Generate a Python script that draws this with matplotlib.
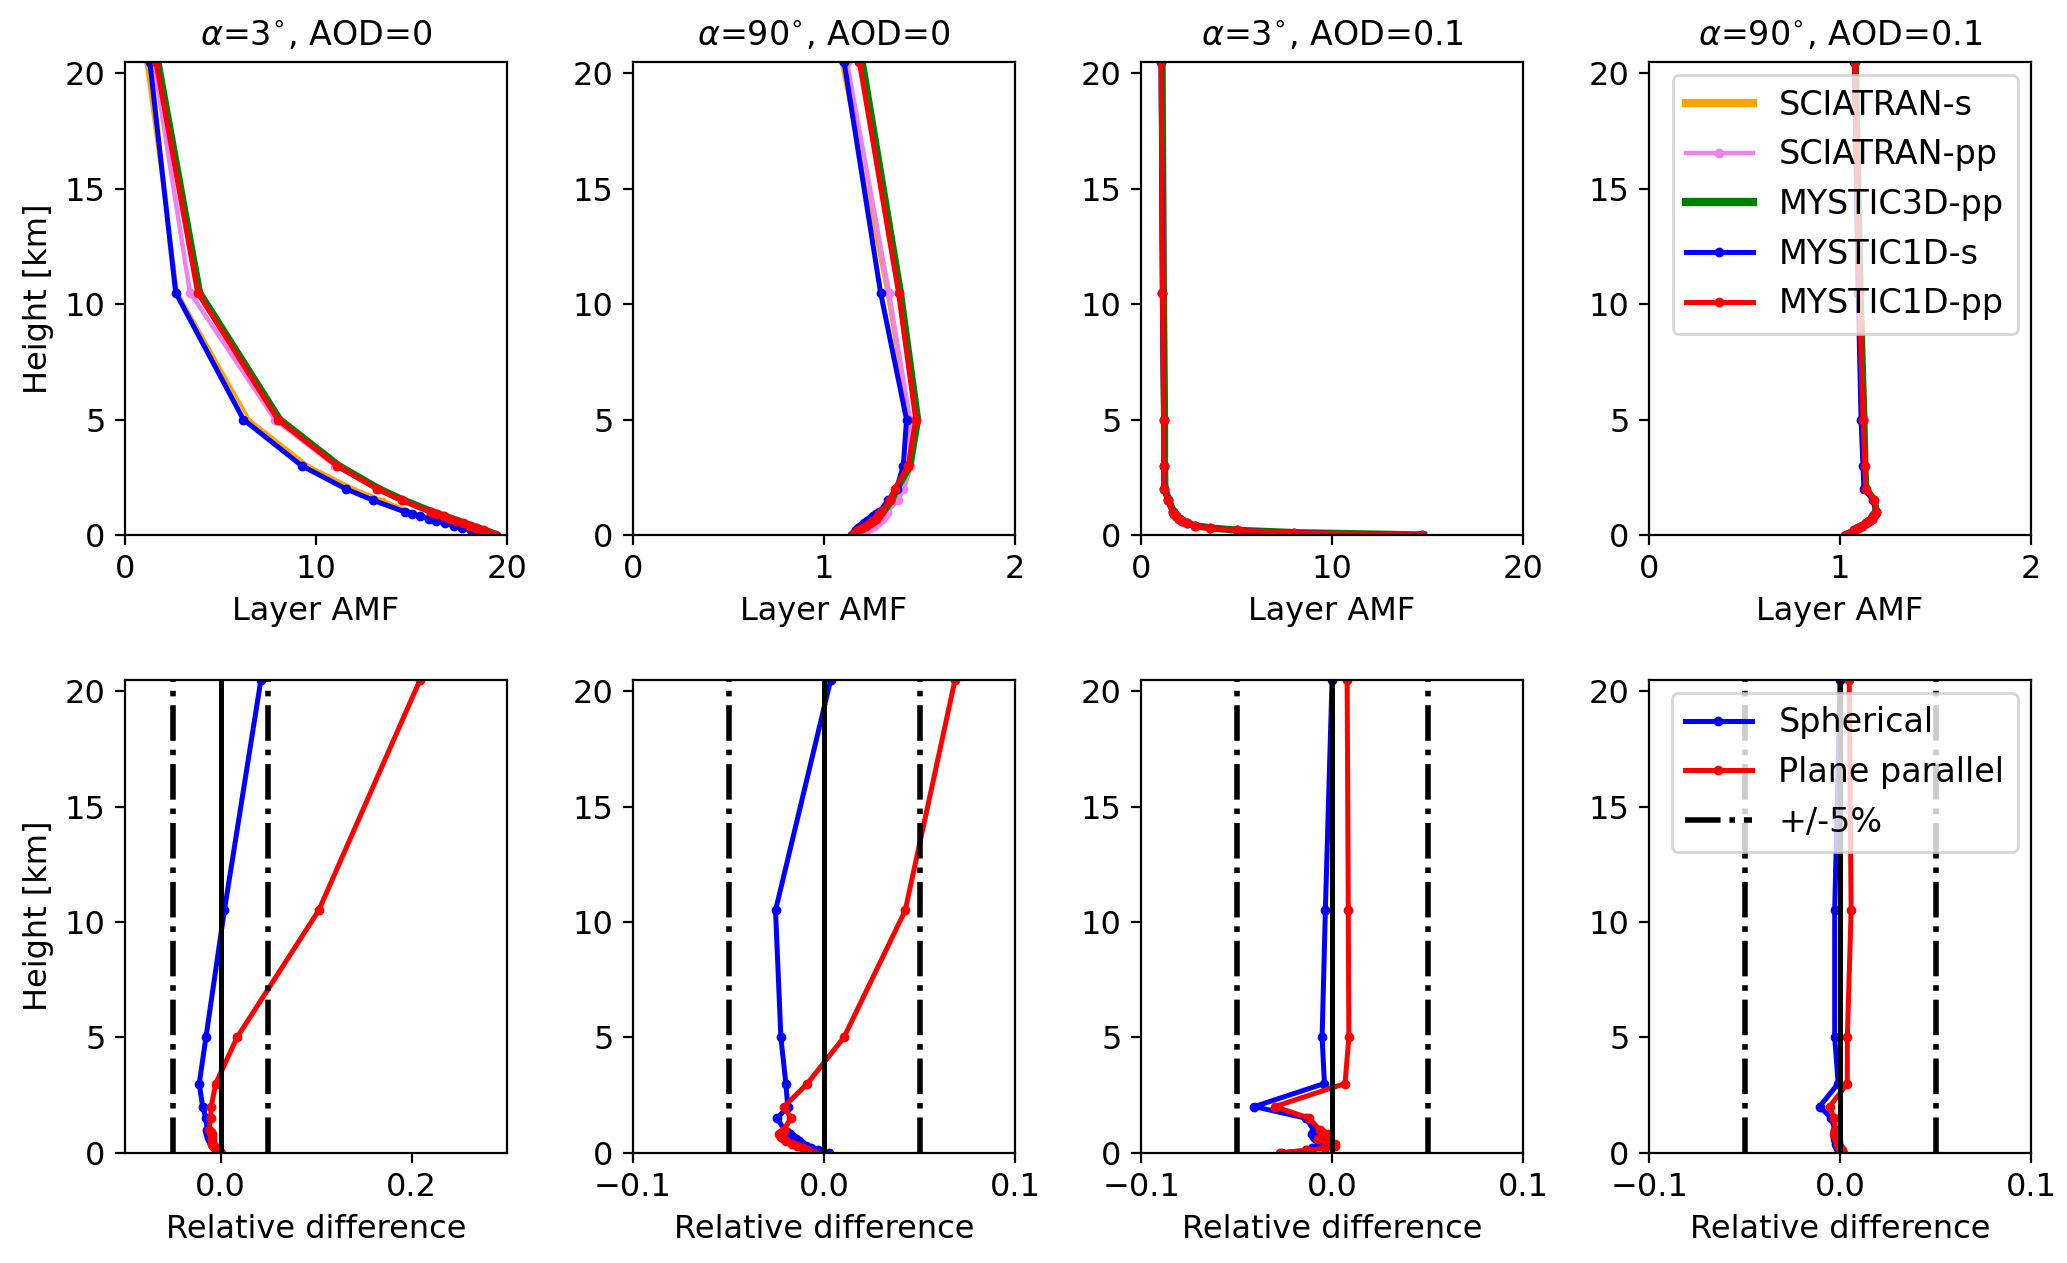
import numpy as np
from matplotlib import pyplot as plt

plt.rcParams['font.size'] = 11.5

# heights of the layers [km]
heights = [0.0, 0.1, 0.2, 0.3, 0.4, 0.5, 0.6, 0.7, 0.8, 0.9, 1.0, 1.5, 2.0, 3.0, 5.0, 10.5, 20.5]

titles = [r'$\alpha$=3$^{\circ}$, AOD=0', r'$\alpha$=90$^{\circ}$, AOD=0',
          r'$\alpha$=3$^{\circ}$, AOD=0.1', r'$\alpha$=90$^{\circ}$, AOD=0.1']
amf_xlims = [(0, 20), (0, 2), (0, 20), (0, 2)]
diff_xlims = [(-0.1, 0.3), (-0.1, 0.1), (-0.1, 0.1), (-0.1, 0.1)]
amf_xticks = [[0, 10, 20], [0, 1, 2], [0, 10, 20], [0, 1, 2]]
diff_xticks = [[0.0, 0.2], [-0.1, 0.0, 0.1], [-0.1, 0.0, 0.1], [-0.1, 0.0, 0.1]]

# layer AMF, one list per model and per case
sciatran_s = [
    [19.35, 19.0, 18.5, 18.0, 17.55, 17.1, 16.65, 16.2, 15.8, 15.4, 15.0, 13.5, 12.0, 9.6, 6.5, 2.75, 1.1],
    [1.17, 1.19, 1.21, 1.23, 1.25, 1.265, 1.28, 1.295, 1.31, 1.32, 1.33, 1.39, 1.42, 1.46, 1.44, 1.33, 1.09],
    [14.7, 8.0, 5.0, 3.6, 2.8, 2.4, 2.15, 2.0, 1.85, 1.75, 1.65, 1.4, 1.2, 1.18, 1.18, 1.12, 1.05],
    [1.03, 1.055, 1.075, 1.095, 1.115, 1.135, 1.15, 1.165, 1.175, 1.185, 1.19, 1.18, 1.135, 1.13, 1.12, 1.1, 1.075],
]
sciatran_pp = [
    [19.4, 19.1, 18.8, 18.45, 18.1, 17.75, 17.4, 17.05, 16.7, 16.35, 16.0, 14.5, 13.2, 11.0, 7.85, 3.4, 1.5],
    [1.18, 1.2, 1.22, 1.24, 1.26, 1.275, 1.29, 1.305, 1.315, 1.325, 1.33, 1.385, 1.415, 1.45, 1.45, 1.34, 1.12],
    [14.7, 8.0, 5.0, 3.6, 2.8, 2.4, 2.15, 2.0, 1.85, 1.75, 1.65, 1.4, 1.2, 1.18, 1.18, 1.12, 1.05],
    [1.03, 1.055, 1.075, 1.095, 1.115, 1.135, 1.15, 1.165, 1.175, 1.185, 1.19, 1.18, 1.135, 1.13, 1.125, 1.105, 1.08],
]
mystic3d_pp = [
    [19.45, 19.15, 18.85, 18.5, 18.15, 17.8, 17.45, 17.1, 16.8, 16.45, 16.1, 14.6, 13.3, 11.2, 8.1, 3.9, 1.72],
    [1.15, 1.17, 1.19, 1.21, 1.23, 1.25, 1.265, 1.28, 1.29, 1.3, 1.31, 1.355, 1.38, 1.45, 1.49, 1.4, 1.2],
    [14.8, 8.1, 5.1, 3.7, 2.85, 2.45, 2.2, 2.05, 1.9, 1.8, 1.7, 1.45, 1.25, 1.23, 1.23, 1.17, 1.1],
    [1.03, 1.055, 1.075, 1.095, 1.115, 1.135, 1.15, 1.165, 1.175, 1.185, 1.19, 1.18, 1.135, 1.13, 1.125, 1.105, 1.08],
]
mystic1d_s = [
    [19.3, 18.65, 18.1, 17.65, 17.2, 16.75, 16.3, 15.9, 15.45, 15.0, 14.65, 13.0, 11.55, 9.25, 6.2, 2.65, 1.3],
    [1.144, 1.155, 1.165, 1.18, 1.195, 1.21, 1.225, 1.24, 1.255, 1.27, 1.29, 1.336, 1.38, 1.415, 1.432, 1.296, 1.105],
    [14.7, 8.0, 5.0, 3.6, 2.8, 2.4, 2.15, 2.0, 1.85, 1.75, 1.65, 1.4, 1.2, 1.18, 1.18, 1.12, 1.05],
    [1.03, 1.055, 1.075, 1.095, 1.115, 1.135, 1.15, 1.165, 1.175, 1.185, 1.19, 1.175, 1.125, 1.12, 1.11, 1.095, 1.075],
]
mystic1d_pp = [
    [19.35, 19.05, 18.75, 18.4, 18.05, 17.7, 17.35, 17.0, 16.7, 16.35, 16.0, 14.5, 13.2, 11.1, 8.0, 3.8, 1.62],
    [1.145, 1.16, 1.18, 1.2, 1.22, 1.24, 1.255, 1.27, 1.28, 1.29, 1.3, 1.345, 1.37, 1.44, 1.48, 1.39, 1.185],
    [14.7, 8.0, 5.0, 3.6, 2.8, 2.4, 2.15, 2.0, 1.85, 1.75, 1.65, 1.4, 1.2, 1.18, 1.18, 1.12, 1.05],
    [1.03, 1.055, 1.075, 1.095, 1.115, 1.135, 1.15, 1.165, 1.175, 1.185, 1.19, 1.18, 1.135, 1.13, 1.12, 1.1, 1.076],
]

# relative differences
diff_spherical = [
    [-0.0014, -0.004, -0.006, -0.008, -0.009, -0.01, -0.011, -0.012, -0.013, -0.0135, -0.014, -0.0153, -0.0188, -0.0223, -0.0153, 0.004, 0.0423],
    [0.0025, -0.003, -0.007, -0.0095, -0.0115, -0.013, -0.0145, -0.016, -0.018, -0.0195, -0.021, -0.0244, -0.019, -0.02, -0.0226, -0.0254, 0.0035],
    [-0.026, -0.0138, -0.0104, -0.007, -0.005, -0.007, -0.0085, -0.0095, -0.0104, -0.0097, -0.0097, -0.0138, -0.0407, -0.004, -0.0052, -0.0035, 0.0],
    [0.0, -0.0005, -0.001, -0.0015, -0.002, -0.0022, -0.0024, -0.0026, -0.0028, -0.0028, -0.0028, -0.0045, -0.0107, -0.001, -0.0028, -0.0028, 0.0],
]
diff_planepar = [
    [0.001, -0.002, -0.005, -0.007, -0.0085, -0.0085, -0.009, -0.0085, -0.0085, -0.01, -0.012, -0.0105, -0.0098, -0.005, 0.0173, 0.1028, 0.209],
    [-0.0055, -0.0087, -0.011, -0.014, -0.017, -0.0197, -0.021, -0.0225, -0.0235, -0.022, -0.021, -0.0174, -0.0209, -0.0087, 0.0104, 0.0425, 0.0686],
    [-0.027, -0.0138, -0.0035, 0.0017, 0.0017, -0.003, -0.0073, -0.004, -0.002, -0.005, -0.0065, -0.012, -0.030, 0.0068, 0.0088, 0.0085, 0.0079],
    [0.0017, 0.001, 0.0, -0.0005, -0.001, -0.001, -0.0015, -0.002, -0.003, -0.0024, -0.0024, -0.003, -0.0055, 0.0038, 0.0038, 0.0058, 0.0048],
]

fig, axes = plt.subplots(2, 4, figsize=(10.335, 6.315), dpi=200)
plt.subplots_adjust(left=0.0605, right=0.9826, top=0.951, bottom=0.0873,
                    wspace=0.33, hspace=0.306)

for i in range(4):
    ax = axes[0, i]
    ax.plot(sciatran_s[i], heights, color='orange', lw=1.2, marker='.', ms=2, label='SCIATRAN-s')
    ax.plot(sciatran_pp[i], heights, color='violet', lw=1.6, marker='o', ms=2.5, label='SCIATRAN-pp')
    ax.plot(mystic3d_pp[i], heights, color='green', lw=2.6, label='MYSTIC3D-pp')
    ax.plot(mystic1d_s[i], heights, color='blue', lw=1.8, marker='o', ms=2.5, label='MYSTIC1D-s')
    ax.plot(mystic1d_pp[i], heights, color='red', lw=1.8, marker='o', ms=2.5, label='MYSTIC1D-pp')
    ax.set_xlim(amf_xlims[i])
    ax.set_xticks(amf_xticks[i])
    ax.set_ylim(0, 20.5)
    ax.set_yticks([0, 5, 10, 15, 20])
    ax.set_title(titles[i], fontsize=12)
    ax.set_xlabel('Layer AMF')
    if i == 0:
        ax.set_ylabel('Height [km]')
    if i == 3:
        leg = ax.legend(loc='upper right', fontsize=12, borderaxespad=0.4)
        for h, w in zip(leg.legend_handles, [3, 1.6, 3, 1.8, 1.8]):
            h.set_linewidth(w)

    ax = axes[1, i]
    ax.plot(diff_spherical[i], heights, color='blue', lw=1.8, marker='o', ms=2.5, label='Spherical')
    ax.plot(diff_planepar[i], heights, color='red', lw=1.8, marker='o', ms=2.5, label='Plane parallel')
    ax.axvline(0, color='k', lw=1.8)
    ax.axvline(-0.05, color='k', ls='-.', lw=2, label='+/-5%')
    ax.axvline(0.05, color='k', ls='-.', lw=2)
    ax.set_xlim(diff_xlims[i])
    ax.set_xticks(diff_xticks[i])
    ax.set_ylim(0, 20.5)
    ax.set_yticks([0, 5, 10, 15, 20])
    ax.set_xlabel('Relative difference')
    if i == 0:
        ax.set_ylabel('Height [km]')
    if i == 3:
        ax.legend(loc='upper right', fontsize=12, borderaxespad=0.4)

plt.savefig('out.png', dpi=200)
